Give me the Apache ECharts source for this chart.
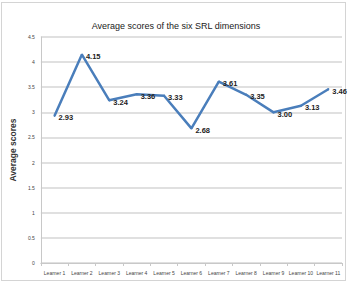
<!DOCTYPE html>
<html>
<head>
<meta charset="utf-8">
<script src="https://cdn.jsdelivr.net/npm/echarts@6.0.0/dist/echarts.min.js"></script>
<style>
  html, body { margin: 0; padding: 0; background: #fff; }
  #frame { position: absolute; left: 1px; top: 2px; width: 345px; height: 279px;
           border: 1.5px solid #d4d4d4; box-sizing: border-box; }
  #chart { position: absolute; left: 0; top: 0; width: 351px; height: 286px; }
</style>
</head>
<body>
<div id="frame"></div>
<div id="chart"></div>
<script>
// data
const learners = ["Learner 1", "Learner 2", "Learner 3", "Learner 4", "Learner 5", "Learner 6",
                  "Learner 7", "Learner 8", "Learner 9", "Learner 10", "Learner 11"];
const avgScores = [2.93, 4.15, 3.24, 3.36, 3.33, 2.68, 3.61, 3.35, 3.00, 3.13, 3.46];
const yTicks = [0, 0.5, 1, 1.5, 2, 2.5, 3, 3.5, 4, 4.5];

const FONT = '"Liberation Sans Narrow", "Liberation Sans", sans-serif';

const chart = echarts.init(document.getElementById("chart"), null, { renderer: "svg" });
chart.setOption({
  animation: false,
  backgroundColor: "transparent",
  title: {
    text: "Average scores of the six SRL dimensions",
    left: 171, top: 16, textAlign: "center",
    textStyle: { fontFamily: FONT, fontSize: 9, fontWeight: "normal", color: "#1a1a1a" },
  },
  grid: { left: 28, right: 9, top: 37, bottom: 23, containLabel: false },
  xAxis: {
    type: "category",
    data: learners,
    boundaryGap: true,
    axisLine: { lineStyle: { color: "#c8c8c8", width: 1 } },
    axisTick: { show: true, length: 3, lineStyle: { color: "#c8c8c8" } },
    axisLabel: { fontFamily: FONT, fontSize: 5, color: "#444", margin: 7, interval: 0 },
  },
  yAxis: {
    type: "value",
    min: yTicks[0], max: yTicks[yTicks.length - 1], interval: 0.5,
    name: "Average scores",
    nameLocation: "middle",
    nameGap: 16,
    nameRotate: 90,
    nameTextStyle: { fontFamily: '"Liberation Sans", sans-serif', fontSize: 8.5, fontWeight: "bold", color: "#333" },
    axisLine: { show: true, lineStyle: { color: "#c8c8c8", width: 1 } },
    axisTick: { show: false },
    axisLabel: {
      fontFamily: FONT, fontSize: 5, color: "#444", margin: 6,
      formatter: v => (yTicks.includes(v) ? String(v) : ""),
    },
    splitLine: { lineStyle: { color: "#d6d6d6", width: 1.5 } },
  },
  series: [{
    type: "line",
    data: avgScores,
    symbol: "circle",
    symbolSize: 2,
    showSymbol: true,
    showAllSymbol: true,
    itemStyle: { color: "#4a7ebb" },
    lineStyle: { color: "#4a7ebb", width: 2.5 },
    label: {
      show: true,
      position: "right",
      distance: 3,
      offset: [0, 2],
      opacity: 1,
      fontFamily: FONT, fontSize: 7.5, fontWeight: "bold", color: "#222",
      formatter: p => Number(p.value).toFixed(2),
    },
  }],
});
</script>
</body>
</html>
